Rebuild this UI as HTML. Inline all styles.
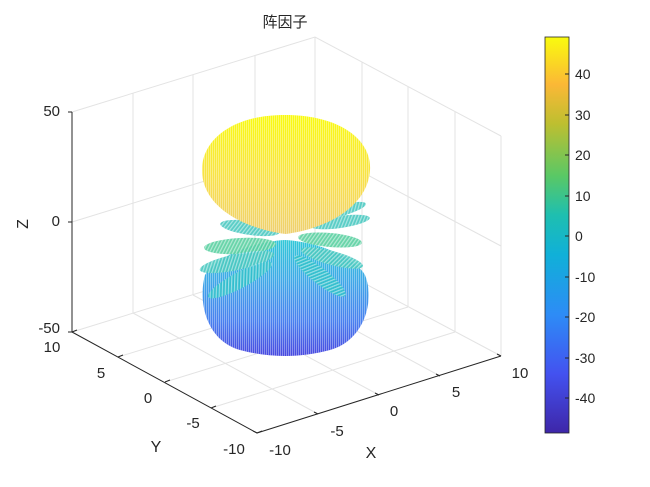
<!DOCTYPE html>
<html><head><meta charset="utf-8"><style>
body{margin:0;background:#fff}
svg{display:block}
text{font-family:"Liberation Sans","Noto Sans CJK SC",sans-serif;fill:#262626}
</style></head><body>
<svg width="650" height="487" viewBox="0 0 650 487">
<defs>
<linearGradient id="cb" x1="0" y1="1" x2="0" y2="0">
<stop offset="0" stop-color="#3e26a8"/><stop offset="0.15" stop-color="#4352f0"/>
<stop offset="0.3" stop-color="#2d8cf6"/><stop offset="0.45" stop-color="#10b0d8"/>
<stop offset="0.55" stop-color="#1ebfb0"/><stop offset="0.65" stop-color="#5ac865"/>
<stop offset="0.78" stop-color="#bdbf30"/><stop offset="0.88" stop-color="#fbb836"/>
<stop offset="1" stop-color="#f9fb0e"/></linearGradient>
<linearGradient id="top" x1="0" y1="0" x2="0" y2="1">
<stop offset="0" stop-color="#f9fb0e"/><stop offset="0.6" stop-color="#f8de50"/><stop offset="1" stop-color="#eed070"/></linearGradient>
<linearGradient id="bot" x1="0" y1="0" x2="0" y2="1">
<stop offset="0" stop-color="#30c8d8"/><stop offset="0.35" stop-color="#40a8e8"/><stop offset="0.7" stop-color="#4880f0"/><stop offset="1" stop-color="#4848e0"/></linearGradient>
<pattern id="st" width="2" height="4" patternUnits="userSpaceOnUse"><rect width="0.8" height="4" fill="#fff" opacity="0.45"/></pattern>
<pattern id="hs" width="3" height="3" patternUnits="userSpaceOnUse" patternTransform="rotate(30)"><rect width="1.2" height="3" fill="#fff" opacity="0.5"/></pattern>
</defs>
<text x="285" y="27" font-size="15" text-anchor="middle">阵因子</text>
<g stroke="#e3e3e3" stroke-width="1" fill="none">
<path d="M72,112 L315,37 L501,136 M315,37 L315,257"/>
<path d="M72,222 L315,147 L501,246"/>
<path d="M133,93 V313 M193,75 V295 M255,56 V276 M362,62 V282 M408,87 V307 M455,112 V332"/>
<path d="M501,136 V356"/>
<path d="M72,332 L315,257 L501,356"/>
<path d="M118,357 L361,282 M165,382 L408,307 M211,408 L455,332"/>
<path d="M133,313 L318,414 M193,295 L379,395 M255,276 L440,376"/>
</g>
<g stroke="#262626" stroke-width="1" fill="none">
<path d="M72,112 V332 M72,112 h-4 M72,222 h-4 M72,332 h-4"/>
<path d="M72,332 L257,433 M257,433 L501,356"/>
<path d="M72,332 l5,-2 M118,357 l5,-2 M165,382 l5,-2 M211,408 l5,-2 M257,433 l5,-2"/>
<path d="M257,433 l-4,-2 M318,414 l-4,-2 M379,395 l-4,-2 M440,376 l-4,-2 M501,356 l-4,-2"/>
</g>
<g font-size="15">
<text x="60" y="116" text-anchor="end">50</text>
<text x="60" y="226" text-anchor="end">0</text>
<text x="60" y="333" text-anchor="end">-50</text>
<text x="28" y="224" transform="rotate(-90 28 224)" text-anchor="middle" font-size="16">Z</text>
<text x="52" y="352" text-anchor="middle">10</text>
<text x="101" y="378" text-anchor="middle">5</text>
<text x="148" y="403" text-anchor="middle">0</text>
<text x="193" y="428" text-anchor="middle">-5</text>
<text x="234" y="454" text-anchor="middle">-10</text>
<text x="156" y="452" text-anchor="middle" font-size="16">Y</text>
<text x="280" y="455" text-anchor="middle">-10</text>
<text x="337" y="436" text-anchor="middle">-5</text>
<text x="394" y="416" text-anchor="middle">0</text>
<text x="456" y="397" text-anchor="middle">5</text>
<text x="520" y="378" text-anchor="middle">10</text>
<text x="371" y="458" text-anchor="middle" font-size="16">X</text>
</g>
<!-- bottom lobe -->
<path d="M285,240 C320,242 355,258 365,275 C375,300 365,340 330,350 C300,358 270,358 240,350 C205,340 198,300 205,275 C215,258 250,242 285,240Z" fill="url(#bot)"/>
<path d="M285,240 C320,242 355,258 365,275 C375,300 365,340 330,350 C300,358 270,358 240,350 C205,340 198,300 205,275 C215,258 250,242 285,240Z" fill="url(#st)"/>
<!-- side lobes -->
<g fill="#48c8c0" opacity="0.9">
<ellipse cx="250" cy="228" rx="30" ry="7" transform="rotate(8 250 228)"/>
<ellipse cx="335" cy="212" rx="32" ry="6" transform="rotate(-15 335 212)"/>
<ellipse cx="340" cy="222" rx="30" ry="6" transform="rotate(-8 340 222)"/>
<ellipse cx="240" cy="246" rx="36" ry="8" transform="rotate(-3 240 246)" fill="#58d0a0"/>
<ellipse cx="330" cy="240" rx="32" ry="7" transform="rotate(5 330 240)" fill="#58d0a0"/>
<ellipse cx="237" cy="262" rx="38" ry="8" transform="rotate(-12 237 262)"/>
<ellipse cx="332" cy="258" rx="32" ry="7" transform="rotate(15 332 258)"/>
<ellipse cx="240" cy="280" rx="36" ry="8" transform="rotate(-28 240 280)" fill="#30c0cc"/>
<ellipse cx="320" cy="276" rx="32" ry="8" transform="rotate(38 320 276)" fill="#30c0cc"/>
</g>
<g fill="url(#hs)">
<ellipse cx="250" cy="228" rx="30" ry="7" transform="rotate(8 250 228)"/>
<ellipse cx="335" cy="212" rx="32" ry="6" transform="rotate(-15 335 212)"/>
<ellipse cx="340" cy="222" rx="30" ry="6" transform="rotate(-8 340 222)"/>
<ellipse cx="240" cy="246" rx="36" ry="8" transform="rotate(-3 240 246)"/>
<ellipse cx="330" cy="240" rx="32" ry="7" transform="rotate(5 330 240)"/>
<ellipse cx="237" cy="262" rx="38" ry="8" transform="rotate(-12 237 262)"/>
<ellipse cx="332" cy="258" rx="32" ry="7" transform="rotate(15 332 258)"/>
<ellipse cx="240" cy="280" rx="36" ry="8" transform="rotate(-28 240 280)"/>
<ellipse cx="320" cy="276" rx="32" ry="8" transform="rotate(38 320 276)"/>
</g>
<!-- top lobe -->
<path d="M285,115 C340,115 372,140 370,170 C368,205 330,228 286,234 C240,228 202,205 202,170 C202,140 232,115 285,115Z" fill="url(#top)"/>
<path d="M285,115 C340,115 372,140 370,170 C368,205 330,228 286,234 C240,228 202,205 202,170 C202,140 232,115 285,115Z" fill="url(#st)"/>
<!-- colorbar -->
<rect x="545" y="37" width="24" height="396" fill="url(#cb)" stroke="#262626" stroke-width="0.8"/>
<g stroke="#262626"><path d="M565,74h4M565,115h4M565,155h4M565,196h4M565,236h4M565,277h4M565,317h4M565,358h4M565,398h4"/></g>
<g font-size="14">
<text x="575" y="79">40</text><text x="575" y="120">30</text><text x="575" y="160">20</text>
<text x="575" y="201">10</text><text x="575" y="241">0</text><text x="575" y="282">-10</text>
<text x="575" y="322">-20</text><text x="575" y="363">-30</text><text x="575" y="403">-40</text>
</g>
</svg>
</body></html>
